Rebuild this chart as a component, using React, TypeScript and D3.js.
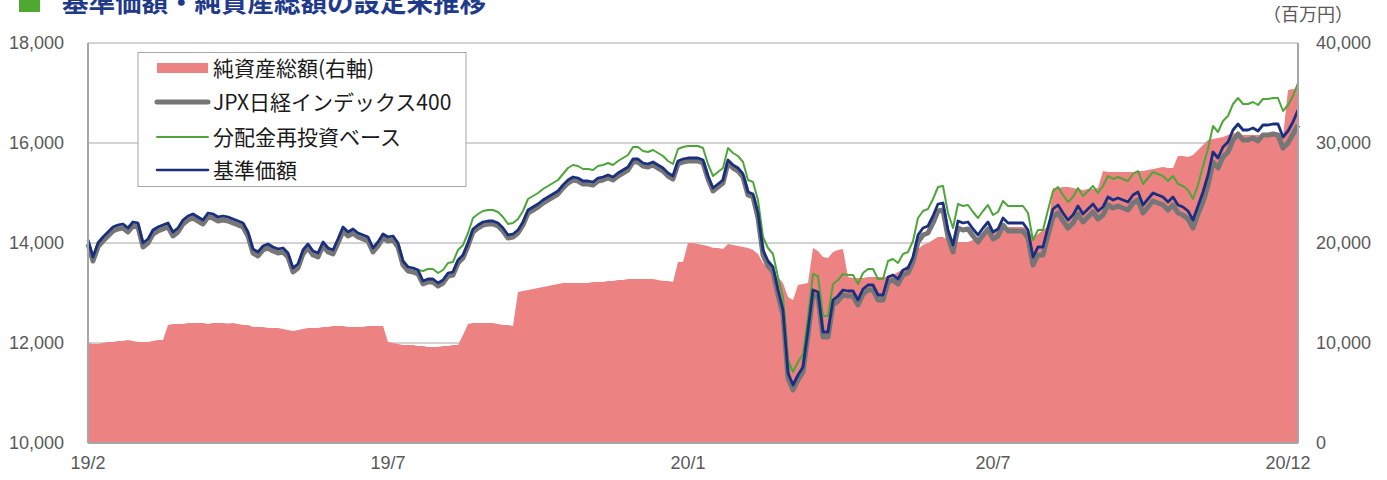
import React from 'react';
import * as d3 from 'd3';

// 基準価額
const navValues = [
14060,13720,14000,14120,14220,14320,14360,14380,14300,14420,
14400,14000,14080,14260,14320,14360,14400,14220,14300,14460,
14540,14580,14520,14460,14600,14580,14520,14540,14520,14480,
14440,14400,14220,13880,13820,13940,13980,13920,13880,13900,
13800,13500,13580,13860,13980,13840,13800,14020,13900,13860,
14080,14320,14220,14280,14200,14160,14120,13900,14020,14180,
14120,14140,14000,13640,13520,13500,13460,13240,13280,13280,
13200,13260,13400,13420,13660,13760,14000,14280,14360,14420,
14440,14440,14400,14300,14160,14180,14260,14420,14660,14720,
14780,14860,14920,14980,15040,15160,15260,15320,15300,15240,
15240,15220,15300,15320,15360,15320,15400,15460,15520,15680,
15680,15600,15580,15620,15560,15500,15400,15340,15640,15680,
15700,15700,15700,15660,15340,15100,15180,15260,15660,15560,
15500,15380,15020,14980,14600,13860,13640,13520,13060,12660,
11400,11160,11360,11520,12260,13060,13020,12220,12220,12860,
12940,13060,13040,13040,12860,13080,13160,13160,12960,12960,
13320,13360,13280,13460,13500,13720,14160,14300,14340,14540,
14780,14800,14260,13960,14440,14400,14420,14280,14160,14300,
14420,14220,14280,14500,14400,14400,14400,14400,14260,13720,
13920,13920,14320,14680,14760,14600,14460,14560,14740,14580,
14680,14780,14640,14720,14920,14860,14900,14860,14820,14960,
15020,14760,14880,15000,14960,14920,14820,14920,14760,14720,
14640,14460,14740,15020,15360,15820,15700,15920,16020,16260,
16380,16260,16260,16300,16240,16360,16360,16380,16380,16120,
16240,16420,16660];

// JPX日経インデックス400
const jpxValues = [
13980,13640,13920,14040,14140,14240,14280,14300,14220,14340,
14320,13920,14000,14180,14240,14280,14320,14140,14220,14380,
14460,14500,14440,14380,14520,14500,14440,14460,14440,14400,
14360,14320,14140,13800,13740,13860,13900,13840,13800,13820,
13720,13420,13500,13780,13900,13760,13720,13940,13820,13780,
14000,14240,14140,14200,14120,14080,14040,13820,13940,14100,
14040,14060,13920,13560,13440,13420,13380,13180,13220,13220,
13140,13200,13340,13360,13600,13700,13940,14220,14300,14360,
14380,14380,14340,14240,14100,14120,14200,14360,14600,14660,
14720,14800,14860,14920,14980,15100,15200,15260,15240,15180,
15180,15160,15240,15260,15300,15260,15340,15400,15460,15620,
15620,15540,15520,15560,15500,15440,15340,15280,15580,15620,
15640,15640,15640,15600,15280,15040,15120,15200,15600,15500,
15440,15320,14960,14920,14500,13760,13540,13420,12960,12560,
11300,11060,11260,11420,12160,12960,12920,12120,12120,12760,
12840,12960,12940,12940,12760,12980,13060,13060,12860,12860,
13220,13260,13180,13360,13400,13620,14020,14160,14200,14400,
14640,14660,14120,13820,14300,14260,14280,14140,14020,14160,
14280,14080,14140,14360,14240,14240,14240,14240,14100,13560,
13760,13760,14160,14520,14600,14440,14300,14400,14580,14420,
14520,14620,14480,14560,14760,14700,14740,14700,14660,14800,
14860,14600,14720,14840,14800,14760,14660,14760,14600,14560,
14480,14300,14580,14820,15160,15620,15500,15720,15820,16060,
16180,16060,16060,16100,16040,16160,16160,16180,16160,15900,
16000,16180,16360];

// 分配金再投資ベース
const reinvValues = [
14060,13720,14000,14120,14220,14320,14360,14380,14300,14420,
14400,14000,14080,14260,14320,14360,14400,14220,14300,14460,
14540,14580,14520,14460,14600,14580,14520,14540,14520,14480,
14440,14400,14220,13880,13820,13940,13980,13920,13880,13900,
13800,13500,13580,13860,13980,13840,13800,14020,13900,13860,
14080,14320,14220,14280,14200,14160,14120,13900,14020,14180,
14120,14140,14000,13640,13520,13500,13460,13440,13480,13480,
13400,13460,13600,13620,13860,13960,14200,14500,14580,14640,
14660,14660,14620,14520,14380,14400,14480,14640,14880,14940,
15000,15080,15140,15200,15260,15380,15500,15560,15540,15480,
15480,15460,15540,15560,15600,15560,15640,15700,15760,15920,
15920,15840,15820,15860,15800,15740,15640,15580,15880,15920,
15940,15940,15940,15900,15580,15340,15420,15500,15900,15800,
15740,15620,15260,15220,14860,14120,13900,13780,13320,12920,
11660,11420,11620,11780,12520,13380,13340,12540,12540,13180,
13260,13380,13360,13360,13180,13400,13480,13480,13280,13280,
13640,13680,13600,13780,13820,14040,14500,14640,14680,14880,
15120,15140,14600,14300,14780,14740,14760,14620,14500,14640,
14760,14560,14620,14840,14740,14740,14740,14740,14600,14060,
14260,14260,14660,15040,15120,14960,14820,14920,15100,14940,
15040,15140,15000,15140,15340,15280,15320,15280,15240,15380,
15440,15180,15300,15420,15380,15340,15240,15340,15180,15140,
15060,14880,15160,15540,15880,16340,16220,16440,16540,16780,
16900,16780,16780,16820,16760,16880,16880,16900,16900,16640,
16760,16940,17200];

// 純資産総額（百万円）
const assetValues = [
10000,9900,9900,10000,10100,10100,10200,10200,10300,10200,
10100,10100,10100,10200,10300,10300,11800,11900,11900,11900,
12000,12000,12000,12000,11900,12000,12000,12000,11950,12000,
11900,11800,11800,11600,11600,11600,11500,11500,11500,11400,
11300,11200,11300,11400,11500,11500,11500,11600,11600,11700,
11700,11700,11600,11600,11600,11600,11700,11700,11700,11700,
10100,10000,9900,9800,9800,9800,9700,9700,9600,9600,
9600,9700,9700,9800,9800,10800,11900,12000,12000,12000,
12000,12000,11900,11800,11800,11700,15100,15200,15300,15400,
15500,15600,15700,15800,15900,16000,16000,16000,16000,16000,
16000,16100,16100,16100,16200,16200,16300,16300,16400,16400,
16400,16400,16400,16400,16300,16200,16200,16100,18100,18100,
20000,20000,19900,19800,19700,19500,19500,19400,19900,19800,
19700,19600,19500,19300,18900,18000,17500,17100,16600,16000,
14600,14300,15800,15900,16000,19500,19200,18600,18500,19100,
19300,19400,16600,16500,16500,16500,16600,16600,16600,16600,
16600,16800,17100,17400,17800,18600,19400,19800,20000,20300,
20600,20600,20300,20100,20100,20100,20100,20300,20600,20800,
21000,21200,21400,21500,21600,21600,21600,21600,21400,20500,
20900,21300,21600,25500,25500,25600,25600,25500,25400,25300,
25400,25400,25500,27200,27100,27100,27100,27100,27100,27100,
27200,27200,27300,27400,27500,27600,27500,27500,28700,28700,
28600,28800,29300,29800,30300,30400,30500,30600,30800,31000,
30900,30800,30800,30800,30800,30800,30800,30800,30700,30600,
35300,35400,35500];

const xLabels = ['19/2', '19/7', '20/1', '20/7', '20/12'];
const xLabelIdx = [0, 60, 120, 181, 240];
const leftTicks = [10000, 12000, 14000, 16000, 18000];
const rightTicks = [0, 10000, 20000, 30000, 40000];
const legendLabels = ['純資産総額(右軸)', 'JPX日経インデックス400', '分配金再投資ベース', '基準価額'];
const titleText = '基準価額・純資産総額の設定来推移';
const unitText = '（百万円）';

const C = {
  area: '#ec8282',
  jpx: '#767676',
  reinv: '#4ea53a',
  nav: '#1b2f80',
  grid: '#a6a6a6',
  text: '#595959',
  title: '#1f3a8a',
  mark: '#4fa82f',
};

const JP = '"Noto Sans CJK JP", "Noto Sans", sans-serif';
const NUM = '"Liberation Sans", Arial, sans-serif';

export default function App() {
  const W = 1387, H = 480;
  const L = 88, R = 1298, T = 43, B = 443;
  const n = navValues.length;
  const x = d3.scaleLinear().domain([0, n - 1]).range([L, R]);
  const yL = d3.scaleLinear().domain([10000, 18000]).range([B, T]);
  const yR = d3.scaleLinear().domain([0, 40000]).range([B, T]);
  const area = d3.area<number>().x((_, i) => x(i)).y0(B).y1(d => yR(d));
  const line = d3.line<number>().x((_, i) => x(i)).y(d => yL(d));
  const fmt = d3.format(',');

  const legendRows = [
    { label: legendLabels[0], type: 'rect' },
    { label: legendLabels[1], color: C.jpx, w: 5 },
    { label: legendLabels[2], color: C.reinv, w: 2 },
    { label: legendLabels[3], color: C.nav, w: 2.5 },
  ];
  const legendY = [68, 102, 137, 170];

  return (
    <svg width={W} height={H} style={{ position: 'absolute', left: 0, top: 0, background: '#fff' }}>
      {/* title */}
      <rect x={19} y={-9} width={21} height={21} fill={C.mark} />
      <text x={62} y={12} fontFamily={JP} fontWeight={700} fontSize={26.5} fill={C.title}>{titleText}</text>
      <text x={1263} y={21} fontFamily={JP} fontSize={18} fill={C.text}>{unitText}</text>

      {/* grid */}
      {leftTicks.map(t => (
        <line key={'g' + t} x1={L} x2={R} y1={yL(t)} y2={yL(t)} stroke={C.grid} strokeWidth={1} />
      ))}

      {/* area */}
      <path d={area(assetValues) || ''} fill={C.area} />

      {/* lines */}
      <path d={line(jpxValues) || ''} fill="none" stroke={C.jpx} strokeWidth={5} strokeLinejoin="round" />
      <path d={line(reinvValues) || ''} fill="none" stroke={C.reinv} strokeWidth={2} strokeLinejoin="round" />
      <path d={line(navValues) || ''} fill="none" stroke={C.nav} strokeWidth={2.8} strokeLinejoin="round" />

      {/* frame axes */}
      <line x1={L} x2={L} y1={T} y2={B} stroke={C.grid} strokeWidth={2} />
      <line x1={R} x2={R} y1={T} y2={B} stroke={C.grid} strokeWidth={2} />
      <line x1={L} x2={R} y1={B} y2={B} stroke={C.grid} strokeWidth={2} />

      {/* left ticks */}
      {leftTicks.map(t => (
        <text key={'l' + t} x={64} y={yL(t)} dy="0.35em" textAnchor="end" fontFamily={NUM} fontSize={18} fill={C.text}>{fmt(t)}</text>
      ))}
      {/* right ticks */}
      {rightTicks.map(t => (
        <text key={'r' + t} x={1316} y={yR(t)} dy="0.35em" textAnchor="start" fontFamily={NUM} fontSize={18} fill={C.text}>{fmt(t)}</text>
      ))}
      {/* x labels */}
      {xLabels.map((lb, k) => (
        <text key={'x' + lb} x={x(xLabelIdx[k])} y={469} textAnchor="middle" fontFamily={NUM} fontSize={18} fill={C.text}>{lb}</text>
      ))}

      {/* legend */}
      <rect x={138} y={52.5} width={328} height={134} fill="#fff" stroke={C.grid} strokeWidth={1} />
      {legendRows.map((r, k) => (
        <g key={'lg' + k}>
          {r.type === 'rect' ? (
            <rect x={157} y={legendY[k] - 5} width={51} height={10} fill={C.area} />
          ) : (
            <line x1={157} x2={208} y1={legendY[k]} y2={legendY[k]} stroke={r.color} strokeWidth={r.w} strokeLinecap="round" />
          )}
          <text x={213} y={legendY[k]} dy="0.36em" fontFamily={JP} fontSize={21} fill="#1a1a1a">{r.label}</text>
        </g>
      ))}
    </svg>
  );
}
